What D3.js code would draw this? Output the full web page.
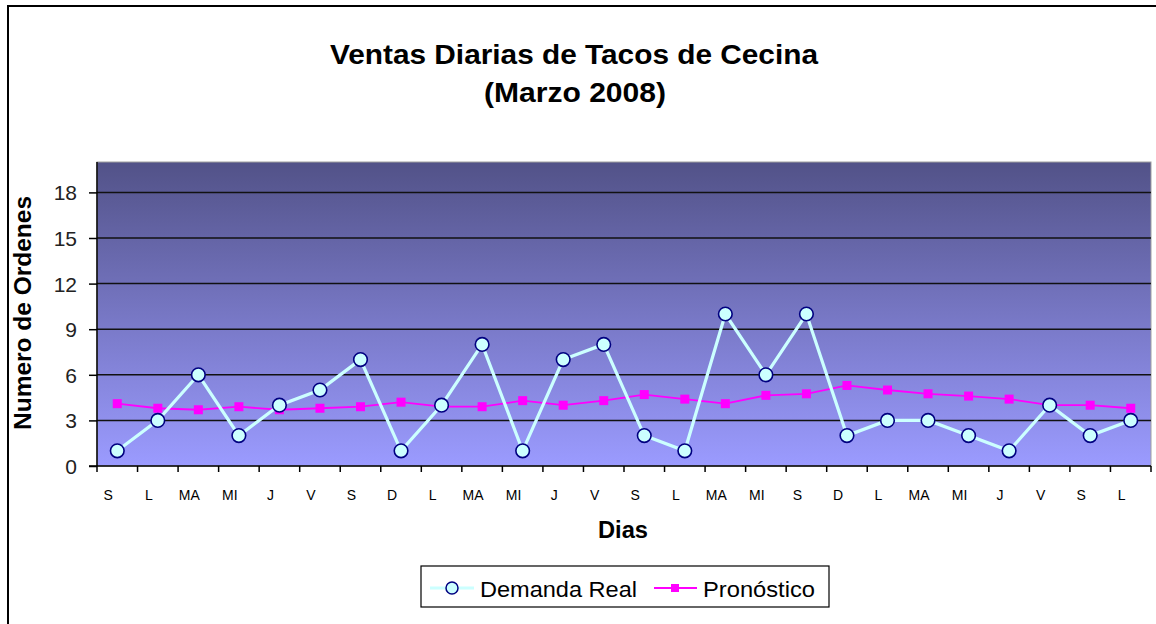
<!DOCTYPE html>
<html><head><meta charset="utf-8">
<script src="https://cdn.jsdelivr.net/npm/d3@7"></script>
<style>body{margin:0;background:#fff;}svg{display:block;font-family:Arial,"Liberation Sans",sans-serif;}</style>
</head><body>
<svg id="c" width="1156" height="624"></svg>
<script>
const days = ["S","L","MA","MI","J","V","S","D","L","MA","MI","J","V","S","L","MA","MI","S","D","L","MA","MI","J","V","S","L"];
const demandaReal = [1,3,6,2,4,5,7,1,4,8,1,7,8,2,1,10,6,10,2,3,3,2,1,4,2,3];
const pronostico = [4.1,3.8,3.7,3.9,3.7,3.8,3.9,4.2,3.9,3.9,4.3,4.0,4.3,4.7,4.4,4.1,4.65,4.75,5.3,5.0,4.75,4.6,4.4,4.0,4.0,3.8];
const yTicks = [0,3,6,9,12,15,18];

const svg = d3.select("#c");
const L = 97, R = 1151, T = 162, B = 466;
const idx = d3.range(days.length);
const x = d3.scaleBand().domain(idx).range([L, R]);
const y = d3.scaleLinear().domain([0, 20]).range([B, T]);

// outer chart border
svg.append("rect").attr("x",8).attr("y",6).attr("width",1160).attr("height",640)
  .attr("fill","#fff").attr("stroke","#000").attr("stroke-width",2);

// gradient
const defs = svg.append("defs");
const g = defs.append("linearGradient").attr("id","bg").attr("x1",0).attr("y1",0).attr("x2",0).attr("y2",1);
g.append("stop").attr("offset","0%").attr("stop-color","#525288");
g.append("stop").attr("offset","100%").attr("stop-color","#9b9bff");

svg.append("rect").attr("x",L).attr("y",T).attr("width",R-L).attr("height",B-T)
  .attr("fill","url(#bg)").attr("stroke","#a0a0a0").attr("stroke-width",1);

// gridlines
svg.append("g").selectAll("line").data(yTicks.filter(d=>d>0)).join("line")
  .attr("x1",L).attr("x2",R).attr("y1",d=>y(d)).attr("y2",d=>y(d))
  .attr("stroke","#111").attr("stroke-width",1.5);

// y axis
const ya = svg.append("g").attr("transform",`translate(${L},0)`)
  .call(d3.axisLeft(y).tickValues(yTicks).tickSize(8).tickPadding(12).tickFormat(d3.format("d")));
ya.select(".domain").attr("stroke","#000").attr("stroke-width",1.5).attr("d",`M0,${T}V${B}`);
ya.selectAll(".tick line").attr("stroke","#000").attr("stroke-width",1.5);
ya.selectAll("text").attr("font-size",21).attr("fill","#222").attr("font-family","Arial,'Liberation Sans',sans-serif").attr("dy","0.36em");

// x axis
svg.append("line").attr("x1",L-8).attr("x2",R).attr("y1",B).attr("y2",B).attr("stroke","#000").attr("stroke-width",1.5);
const bounds = d3.range(days.length+1).map(i => L + i*x.bandwidth());
svg.append("g").selectAll("line").data(bounds).join("line")
  .attr("x1",d=>d).attr("x2",d=>d).attr("y1",B).attr("y2",B+6).attr("stroke","#000").attr("stroke-width",1.5);
svg.append("g").selectAll("text").data(idx).join("text")
  .attr("x",i=>x(i)+x.bandwidth()/2-9).attr("y",500).attr("text-anchor","middle")
  .attr("font-size",14).attr("fill","#000").text(i=>days[i]);

// lines
const cx = i => x(i)+x.bandwidth()/2;
svg.append("path").datum(idx).attr("fill","none").attr("stroke","#ff00ff").attr("stroke-width",1.8)
  .attr("d",d3.line().x(cx).y(i=>y(pronostico[i])));
svg.append("path").datum(idx).attr("fill","none").attr("stroke","#ccffff").attr("stroke-width",3.2)
  .attr("d",d3.line().x(cx).y(i=>y(demandaReal[i])));

svg.append("g").selectAll("rect").data(idx).join("rect")
  .attr("x",i=>cx(i)-4.5).attr("y",i=>y(pronostico[i])-4.5).attr("width",9).attr("height",9)
  .attr("fill","#ff00ff");
svg.append("g").selectAll("circle").data(idx).join("circle")
  .attr("cx",cx).attr("cy",i=>y(demandaReal[i])).attr("r",6.8)
  .attr("fill","#ccffff").attr("stroke","#000080").attr("stroke-width",1.6);

// titles
svg.append("text").attr("x",574).attr("y",64).attr("text-anchor","middle").attr("font-size",28).attr("font-weight","bold")
  .attr("textLength",488).attr("lengthAdjust","spacingAndGlyphs").text("Ventas Diarias de Tacos de Cecina");
svg.append("text").attr("x",575).attr("y",102).attr("text-anchor","middle").attr("font-size",28).attr("font-weight","bold")
  .attr("textLength",182).attr("lengthAdjust","spacingAndGlyphs").text("(Marzo 2008)");
svg.append("text").attr("x",623).attr("y",538).attr("text-anchor","middle").attr("font-size",23).attr("font-weight","bold")
  .attr("textLength",50).attr("lengthAdjust","spacingAndGlyphs").text("Dias");
svg.append("text").attr("transform","translate(31,313) rotate(-90)").attr("text-anchor","middle").attr("font-size",23).attr("font-weight","bold")
  .attr("textLength",234).attr("lengthAdjust","spacingAndGlyphs").text("Numero de Ordenes");

// legend
const lg = svg.append("g");
lg.append("rect").attr("x",421).attr("y",566).attr("width",408).attr("height",41).attr("fill","#fff").attr("stroke","#000").attr("stroke-width",1.2);
lg.append("line").attr("x1",430).attr("x2",474).attr("y1",588).attr("y2",588).attr("stroke","#ccffff").attr("stroke-width",3);
lg.append("circle").attr("cx",452).attr("cy",588).attr("r",6).attr("fill","#ccffff").attr("stroke","#000080").attr("stroke-width",1.5);
lg.append("text").attr("x",480).attr("y",597).attr("font-size",22).attr("textLength",157).attr("lengthAdjust","spacingAndGlyphs").text("Demanda Real");
lg.append("line").attr("x1",654).attr("x2",697).attr("y1",588).attr("y2",588).attr("stroke","#ff00ff").attr("stroke-width",1.8);
lg.append("rect").attr("x",671).attr("y",584).attr("width",8).attr("height",8).attr("fill","#ff00ff");
lg.append("text").attr("x",703).attr("y",597).attr("font-size",22).attr("textLength",112).attr("lengthAdjust","spacingAndGlyphs").text("Pronóstico");
</script>
</body></html>
